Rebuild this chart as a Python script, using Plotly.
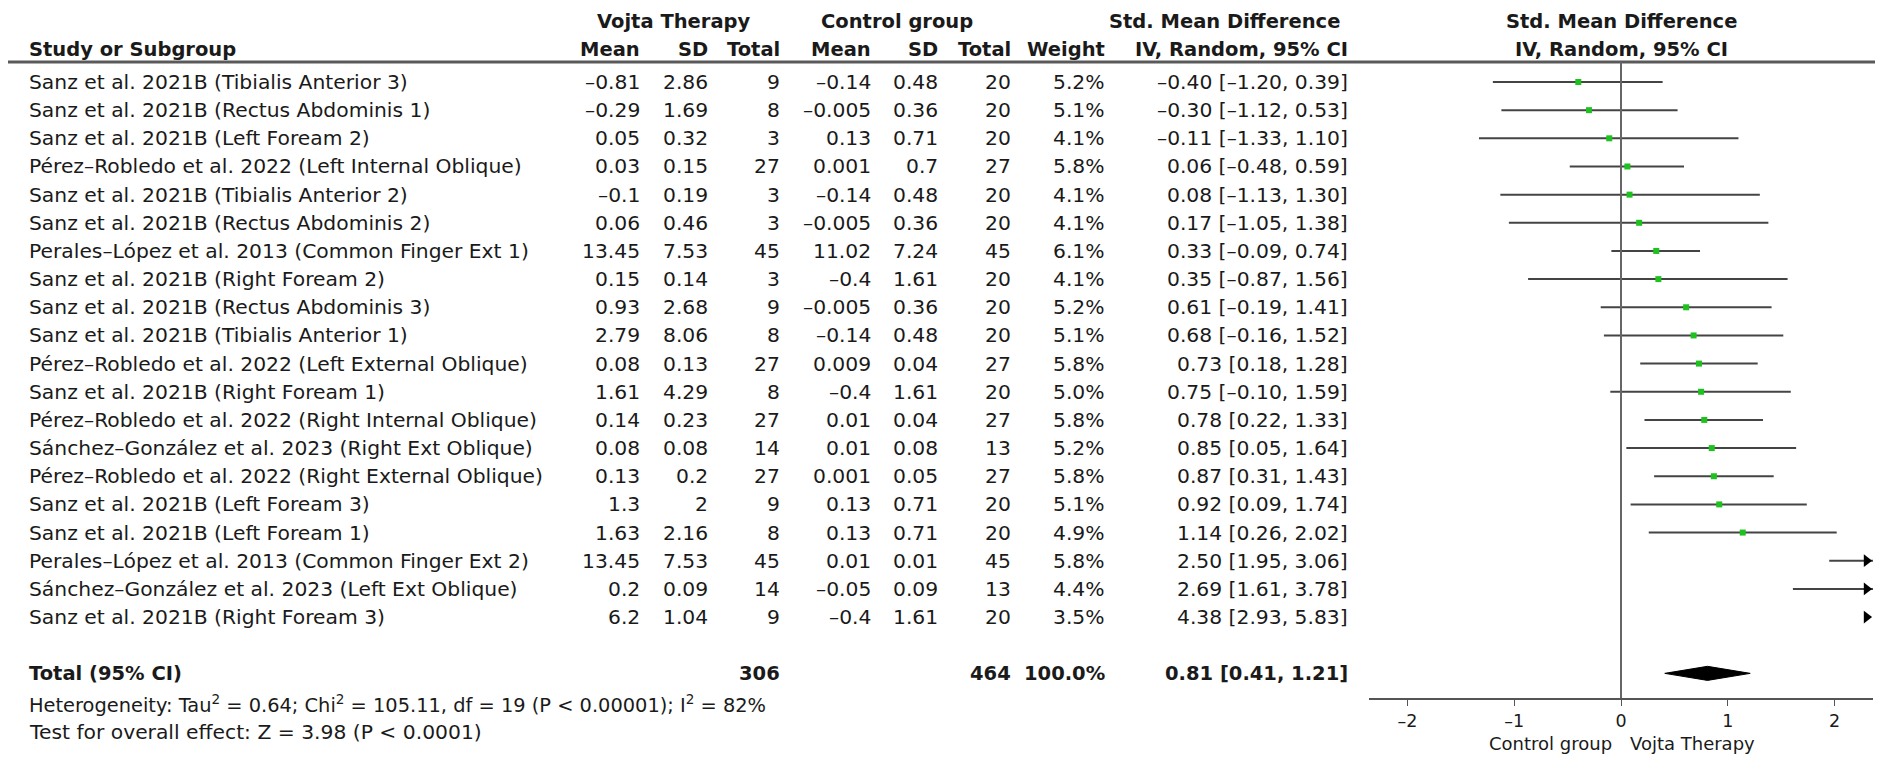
import plotly.graph_objects as go

# ---- data ----
studies = [
    "Sanz et al. 2021B (Tibialis Anterior 3)",
    "Sanz et al. 2021B (Rectus Abdominis 1)",
    "Sanz et al. 2021B (Left Foream 2)",
    "Pérez–Robledo et al. 2022 (Left Internal Oblique)",
    "Sanz et al. 2021B (Tibialis Anterior 2)",
    "Sanz et al. 2021B (Rectus Abdominis 2)",
    "Perales–López et al. 2013 (Common Finger Ext 1)",
    "Sanz et al. 2021B (Right Foream 2)",
    "Sanz et al. 2021B (Rectus Abdominis 3)",
    "Sanz et al. 2021B (Tibialis Anterior 1)",
    "Pérez–Robledo et al. 2022 (Left External Oblique)",
    "Sanz et al. 2021B (Right Foream 1)",
    "Pérez–Robledo et al. 2022 (Right Internal Oblique)",
    "Sánchez–González et al. 2023 (Right Ext Oblique)",
    "Pérez–Robledo et al. 2022 (Right External Oblique)",
    "Sanz et al. 2021B (Left Foream 3)",
    "Sanz et al. 2021B (Left Foream 1)",
    "Perales–López et al. 2013 (Common Finger Ext 2)",
    "Sánchez–González et al. 2023 (Left Ext Oblique)",
    "Sanz et al. 2021B (Right Foream 3)",
]
vt_mean = [-0.81, -0.29, 0.05, 0.03, -0.1, 0.06, 13.45, 0.15, 0.93, 2.79,
           0.08, 1.61, 0.14, 0.08, 0.13, 1.3, 1.63, 13.45, 0.2, 6.2]
vt_sd = [2.86, 1.69, 0.32, 0.15, 0.19, 0.46, 7.53, 0.14, 2.68, 8.06,
         0.13, 4.29, 0.23, 0.08, 0.2, 2, 2.16, 7.53, 0.09, 1.04]
vt_n = [9, 8, 3, 27, 3, 3, 45, 3, 9, 8, 27, 8, 27, 14, 27, 9, 8, 45, 14, 9]
ct_mean = [-0.14, -0.005, 0.13, 0.001, -0.14, -0.005, 11.02, -0.4, -0.005, -0.14,
           0.009, -0.4, 0.01, 0.01, 0.001, 0.13, 0.13, 0.01, -0.05, -0.4]
ct_sd = [0.48, 0.36, 0.71, 0.7, 0.48, 0.36, 7.24, 1.61, 0.36, 0.48,
         0.04, 1.61, 0.04, 0.08, 0.05, 0.71, 0.71, 0.01, 0.09, 1.61]
ct_n = [20, 20, 20, 27, 20, 20, 45, 20, 20, 20, 27, 20, 27, 13, 27, 20, 20, 45, 13, 20]
weights = [5.2, 5.1, 4.1, 5.8, 4.1, 4.1, 6.1, 4.1, 5.2, 5.1,
           5.8, 5.0, 5.8, 5.2, 5.8, 5.1, 4.9, 5.8, 4.4, 3.5]
smd = [-0.40, -0.30, -0.11, 0.06, 0.08, 0.17, 0.33, 0.35, 0.61, 0.68,
       0.73, 0.75, 0.78, 0.85, 0.87, 0.92, 1.14, 2.50, 2.69, 4.38]
ci_lo = [-1.20, -1.12, -1.33, -0.48, -1.13, -1.05, -0.09, -0.87, -0.19, -0.16,
         0.18, -0.10, 0.22, 0.05, 0.31, 0.09, 0.26, 1.95, 1.61, 2.93]
ci_hi = [0.39, 0.53, 1.10, 0.59, 1.30, 1.38, 0.74, 1.56, 1.41, 1.52,
         1.28, 1.59, 1.33, 1.64, 1.43, 1.74, 2.02, 3.06, 3.78, 5.83]

total_vt = 306
total_ct = 464
total_weight = 100.0
total_smd = 0.81
total_lo = 0.41
total_hi = 1.21
heterogeneity = ("Heterogeneity: Tau<sup>2</sup> = 0.64; Chi<sup>2</sup> = 105.11, "
                 "df = 19 (P &lt; 0.00001); I<sup>2</sup> = 82%")
overall_effect = "Test for overall effect: Z = 3.98 (P &lt; 0.0001)"

tick_vals = [-2, -1, 0, 1, 2]
tick_text = ["–2", "–1", "0", "1", "2"]
x_lim = 2.36

# ---- page geometry (pixels of the 1903x764 frame, 8px body margin) ----
W, H = 1887, 748


def px(x):
    return (x - 8) / W


def py(y):
    return 1 - (y - 8) / H


def fmt(v):
    return ("%g" % v).replace("-", "–")


def fmt_ci(e, lo, hi):
    return ("%.2f [%.2f, %.2f]" % (e, lo, hi)).replace("-", "–")


font_family = "DejaVu Sans"
text_color = "#1a1a1a"
size_txt = 20.3
size_bold = 19.5

fig = go.Figure()

rows = list(range(len(studies)))
for i in rows:
    fig.add_trace(go.Scatter(
        x=[ci_lo[i], ci_hi[i]], y=[i, i],
        mode="lines",
        line=dict(color="#444444", width=2),
        hoverinfo="skip",
    ))

fig.add_trace(go.Scatter(
    x=smd, y=rows,
    mode="markers",
    marker=dict(symbol="square", size=6, color="#1ec21e"),
))

# arrowheads where the CI runs past the axis
arrow_rows = [i for i in rows if ci_hi[i] > x_lim]
fig.add_trace(go.Scatter(
    x=[x_lim - 0.06] * len(arrow_rows), y=arrow_rows,
    mode="markers",
    marker=dict(symbol="triangle-right", size=11, color="black"),
    cliponaxis=False,
))

# pooled diamond
total_row = len(studies) + 1
dh = 0.25
fig.add_trace(go.Scatter(
    x=[total_lo, total_smd, total_hi, total_smd, total_lo],
    y=[total_row, total_row - dh, total_row, total_row + dh, total_row],
    mode="lines",
    fill="toself",
    fillcolor="black",
    line=dict(color="black", width=1),
))

ann = []


def add_text(x, y, text, anchor="right", bold=False, yref="y", size=None):
    ann.append(dict(
        x=x, y=y, xref="paper", yref=yref, text=("<b>%s</b>" % text) if bold else text,
        xanchor=anchor, yanchor="middle", showarrow=False,
        font=dict(family=font_family, size=size or (size_bold if bold else size_txt), color=text_color),
    ))


# column anchors
c_study = px(27)
c_vt_mean, c_vt_sd, c_vt_n = px(642), px(710), px(782)
c_ct_mean, c_ct_sd, c_ct_n = px(873), px(940), px(1013)
c_weight, c_ci = px(1107), px(1350)

# headers
y_h1, y_h2 = py(22), py(49)
add_text(px(674), y_h1, "Vojta Therapy", "center", True, "paper")
add_text(px(897), y_h1, "Control group", "center", True, "paper")
add_text(px(1342), y_h1, "Std. Mean Difference", "right", True, "paper")
add_text(px(1621), y_h1, "Std. Mean Difference", "center", True, "paper")
add_text(c_study, y_h2, "Study or Subgroup", "left", True, "paper")
for c, t in [(c_vt_mean, "Mean"), (c_vt_sd, "SD"), (c_vt_n, "Total"),
             (c_ct_mean, "Mean"), (c_ct_sd, "SD"), (c_ct_n, "Total"),
             (c_weight, "Weight"), (c_ci, "IV, Random, 95% CI")]:
    add_text(c, y_h2, t, "right", True, "paper")
add_text(px(1621), y_h2, "IV, Random, 95% CI", "center", True, "paper")

# study rows
for i in rows:
    add_text(c_study, i, studies[i], "left")
    add_text(c_vt_mean, i, fmt(vt_mean[i]))
    add_text(c_vt_sd, i, fmt(vt_sd[i]))
    add_text(c_vt_n, i, str(vt_n[i]))
    add_text(c_ct_mean, i, fmt(ct_mean[i]))
    add_text(c_ct_sd, i, fmt(ct_sd[i]))
    add_text(c_ct_n, i, str(ct_n[i]))
    add_text(c_weight, i, "%.1f%%" % weights[i])
    add_text(c_ci, i, fmt_ci(smd[i], ci_lo[i], ci_hi[i]))

# total row
add_text(c_study, total_row, "Total (95% CI)", "left", True)
add_text(c_vt_n, total_row, str(total_vt), "right", True)
add_text(c_ct_n, total_row, str(total_ct), "right", True)
add_text(c_weight, total_row, "%.1f%%" % total_weight, "right", True)
add_text(c_ci, total_row, fmt_ci(total_smd, total_lo, total_hi), "right", True)

add_text(c_study, py(704), heterogeneity, "left", yref="paper", size=19.4)
add_text(c_study, py(732), overall_effect, "left", yref="paper")

# favours labels under the axis
for t, anchor, shift in [("Control group", "right", -7), ("Vojta Therapy", "left", 7)]:
    ann.append(dict(
        x=0, y=py(743), xref="x", yref="paper", text=t, xanchor=anchor, yanchor="middle",
        xshift=shift, showarrow=False,
        font=dict(family=font_family, size=18, color=text_color),
    ))

fig.update_layout(
    width=W, height=H,
    margin=dict(l=0, r=0, t=0, b=0),
    plot_bgcolor="white",
    paper_bgcolor="white",
    showlegend=False,
    annotations=ann,
    shapes=[
        dict(type="line", xref="paper", yref="paper", x0=px(6), x1=px(1875), y0=py(62), y1=py(62),
             line=dict(color="#5a5a5a", width=3)),
        dict(type="line", xref="x", yref="y domain", x0=0, x1=0, y0=0, y1=1,
             line=dict(color="#666666", width=2)),
    ],
    xaxis=dict(
        domain=[px(1369), px(1873)],
        range=[-x_lim, x_lim],
        tickvals=tick_vals,
        ticktext=tick_text,
        ticks="outside",
        ticklen=6,
        tickcolor="#555555",
        showline=True,
        linecolor="#555555",
        linewidth=1.5,
        showgrid=False,
        zeroline=False,
        tickfont=dict(family=font_family, size=17.5, color=text_color),
    ),
    yaxis=dict(
        domain=[py(698), py(62)],
        range=[21.875, -0.71],
        visible=False,
        showgrid=False,
        zeroline=False,
    ),
)

fig.write_html("out.html")
